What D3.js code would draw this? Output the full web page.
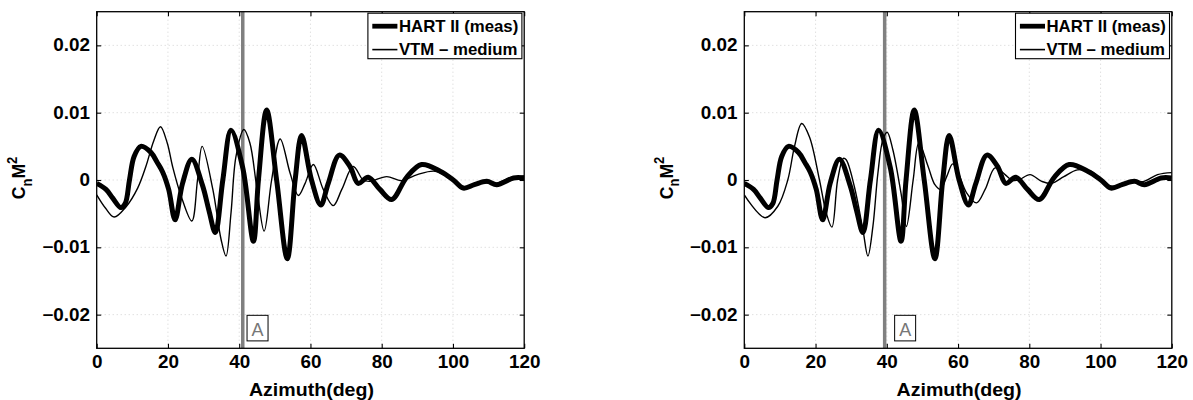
<!DOCTYPE html>
<html>
<head>
<meta charset="utf-8">
<script src="https://cdn.jsdelivr.net/npm/d3@7"></script>
<style>
  html, body { margin: 0; padding: 0; background: #fff; }
  svg { display: block; font-family: "Liberation Sans", Arial, Helvetica, sans-serif; }
</style>
</head>
<body>
<svg id="chart" width="1193" height="400"></svg>
<script>
// ---- Data ----
const xTicks = [0, 20, 40, 60, 80, 100, 120];
const yTicks = [-0.02, -0.01, 0, 0.01, 0.02];
const yTickLabels = ["\u22120.02", "\u22120.01", "0", "0.01", "0.02"];
const legendLabels = ["HART II (meas)", "VTM \u2013 medium"];
const markerLabel = "A";

// HART II measured (same in both panels)
const hartAz  = [0, 2.6, 4.5, 6.8, 8, 9.2, 10.5, 12.4, 15.2, 17, 18.5, 20.2, 22, 24.1, 26.7, 29.7, 31.5, 33.3, 35.4, 37.7, 41, 44, 45.4, 47.7, 50.5, 53.5, 55.7, 57.5, 60.3, 62.9, 65, 68.1, 71.1, 73.4, 76.2, 79.5, 82.8, 87, 91.2, 96.4, 100.1, 102.9, 106, 109.5, 112.3, 117, 120];
const hartVal = [-0.0005, -0.0014, -0.0027, -0.0041, -0.0035, 0, 0.0035, 0.005, 0.0041, 0.0026, 0.0012, -0.0014, -0.0059, -0.0005, 0.0031, -0.0008, -0.0045, -0.0078, 0, 0.0074, 0.0018, -0.0091, 0, 0.0104, 0, -0.0117, 0, 0.0066, 0, -0.0037, -0.0005, 0.0037, 0.002, -0.0005, 0.0004, -0.0014, -0.0029, 0.0004, 0.0023, 0.0013, 0, -0.0012, -0.0007, -0.0002, -0.0007, 0.0003, 0.0003];

// VTM medium, left panel
const vtmLeftAz  = [0, 2.5, 4.9, 8.2, 11.5, 13.8, 16, 17.9, 19.8, 21.3, 23.7, 26.7, 28.3, 29.6, 32.6, 34.9, 36.3, 37.7, 39.1, 41.3, 43, 44.9, 47, 49.1, 51.5, 54.3, 56.6, 58.5, 60.8, 63.6, 66.4, 68.8, 72, 74.8, 76.7, 81.4, 85.6, 90, 95, 100, 103, 108, 112, 116, 120];
const vtmLeftVal = [-0.0022, -0.0042, -0.0055, -0.004, -0.0012, 0.002, 0.0058, 0.0079, 0.0055, 0.002, -0.0024, -0.0061, 0, 0.005, -0.0014, -0.0088, -0.0113, -0.0049, 0.0035, 0.0075, 0.0055, -0.001, -0.0076, 0, 0.0061, 0.001, -0.0023, -0.0005, 0.0023, -0.0014, -0.0038, -0.0014, 0.002, 0, -0.0002, 0.0005, -0.0001, 0.0008, 0.0013, 0, -0.001, -0.0004, -0.0005, 0.0003, 0.0006];

// VTM medium, right panel
const vtmRightAz  = [0, 5.8, 9.4, 12.2, 14.1, 16.1, 18.3, 21.1, 23, 24.6, 26.2, 27.8, 28.6, 30.9, 33.3, 34.7, 36.1, 37.5, 38.9, 40.1, 41.7, 44, 45.5, 47.4, 49, 51.6, 53.5, 55.1, 56.8, 58.5, 60.1, 62.4, 65.2, 67.6, 70.4, 73.2, 75.1, 77, 80.2, 83.5, 86.3, 89.7, 93.5, 97.2, 102.8, 108.5, 112.2, 116, 120];
const vtmRightVal = [-0.0022, -0.0056, -0.0039, 0, 0.005, 0.0084, 0.0064, 0, -0.0049, -0.007, 0, 0.0032, 0.003, -0.001, -0.0074, -0.0113, -0.0069, 0.001, 0.006, 0.0071, 0.0045, -0.002, -0.0069, 0, 0.0055, 0.002, -0.0007, -0.0014, 0.0005, 0.0024, 0.001, -0.0019, -0.0034, -0.0014, 0.0018, 0.0008, 0, 0, 0.0008, -0.0002, -0.0005, 0.0005, 0.0015, 0.0013, -0.0009, -0.0002, -0.0002, 0.0008, 0.0011];

// marker (vertical line) azimuth per panel, and label box azimuth
const markerAz = [41, 39.4];
const markerBoxAz = 42.2;

// ---- Layout ----
const svg = d3.select("#chart");
svg.append("rect").attr("width", 1193).attr("height", 400).attr("fill", "#fff");

const panels = [
  { left: 96.7, vtmAz: vtmLeftAz, vtmVal: vtmLeftVal, marker: markerAz[0], id: "p0" },
  { left: 744.3, vtmAz: vtmRightAz, vtmVal: vtmRightVal, marker: markerAz[1], id: "p1" }
];
const W = 427.5, plotTop = 11.7, H = 336.6;
const FS = 17.5, SX = 1.08;

panels.forEach(p => {
  const g = svg.append("g").attr("transform", `translate(${p.left},${plotTop})`);
  const x = d3.scaleLinear().domain([0, 120]).range([0, W]);
  const y = d3.scaleLinear().domain([-0.025, 0.025]).range([H, 0]);

  // grid
  g.append("g").selectAll("line").data(xTicks.slice(1, -1)).join("line")
    .attr("x1", d => x(d)).attr("x2", d => x(d)).attr("y1", 0).attr("y2", H)
    .attr("stroke", "#c8c8c8").attr("stroke-width", 0.8).attr("stroke-dasharray", "1,3");
  g.append("g").selectAll("line").data(yTicks).join("line")
    .attr("y1", d => y(d)).attr("y2", d => y(d)).attr("x1", 0).attr("x2", W)
    .attr("stroke", "#c8c8c8").attr("stroke-width", 0.8).attr("stroke-dasharray", "1,3");

  // clip
  svg.append("clipPath").attr("id", "clip" + p.id).append("rect").attr("width", W).attr("height", H);
  const plot = g.append("g").attr("clip-path", `url(#clip${p.id})`);

  // marker line
  plot.append("line").attr("x1", x(p.marker)).attr("x2", x(p.marker)).attr("y1", 0).attr("y2", H)
    .attr("stroke", "#808080").attr("stroke-width", 3.5);

  const line = d3.line().x(d => x(d[0])).y(d => y(d[1])).curve(d3.curveCatmullRom.alpha(0.5));
  plot.append("path").datum(d3.zip(p.vtmAz, p.vtmVal)).attr("d", line)
    .attr("fill", "none").attr("stroke", "#000").attr("stroke-width", 1.4);
  plot.append("path").datum(d3.zip(hartAz, hartVal)).attr("d", line)
    .attr("fill", "none").attr("stroke", "#000").attr("stroke-width", 5).attr("stroke-linejoin", "round");

  // marker label box
  const bx = x(markerBoxAz), by = y(-0.0201), bh = y(-0.0239) - y(-0.0201);
  g.append("rect").attr("x", bx).attr("y", by).attr("width", 21).attr("height", bh)
    .attr("fill", "#fff").attr("stroke", "#000").attr("stroke-width", 1);
  g.append("text").attr("x", bx + 10.5).attr("y", by + bh - 4.5).attr("text-anchor", "middle")
    .attr("font-size", 18).attr("fill", "#777").text(markerLabel);

  // axes
  const tickLen = 4.5;
  const axB = g.append("g").attr("transform", `translate(0,${H})`)
    .call(d3.axisBottom(x).tickValues(xTicks).tickSize(-tickLen).tickPadding(7.5));
  const axT = g.append("g").call(d3.axisTop(x).tickValues(xTicks).tickSize(-tickLen).tickFormat(""));
  const axL = g.append("g").call(d3.axisLeft(y).tickValues(yTicks).tickSize(-tickLen).tickPadding(6.2)
    .tickFormat(d => yTickLabels[yTicks.indexOf(d)]));
  const axR = g.append("g").attr("transform", `translate(${W},0)`)
    .call(d3.axisRight(y).tickValues(yTicks).tickSize(-tickLen).tickFormat(""));
  [axB, axT, axL, axR].forEach(a => {
    a.select(".domain").remove();
    a.selectAll(".tick line").attr("stroke", "#000").attr("stroke-width", 1.1);
    a.selectAll("text").attr("font-size", FS).attr("font-weight", "bold").attr("fill", "#000")
      .attr("font-family", '"Liberation Sans", Arial, sans-serif')
      .attr("transform", `scale(${SX},1)`);
  });
  axB.selectAll("text").attr("dy", "0.71em");

  // frame
  g.append("rect").attr("width", W).attr("height", H).attr("fill", "none")
    .attr("stroke", "#000").attr("stroke-width", 1.3);

  // x label
  g.append("text").attr("transform", `translate(${W / 2 + 1},${396 - plotTop}) scale(1.12,1)`)
    .attr("text-anchor", "middle")
    .attr("font-size", FS).attr("font-weight", "bold").text("Azimuth(deg)");

  // y label
  const yl = g.append("text")
    .attr("transform", `translate(-71.5,${H / 2 - 2}) scale(${SX},1) rotate(-90)`)
    .attr("text-anchor", "middle").attr("font-size", FS).attr("font-weight", "bold");
  yl.append("tspan").text("C");
  yl.append("tspan").attr("font-size", 13).attr("dy", 6).text("n");
  yl.append("tspan").attr("dy", -6).text("M");
  yl.append("tspan").attr("font-size", 13).attr("dy", -8).text("2");

  // legend
  const lw = 154, lh = 45.5;
  const lx = W - lw - 2.3, ly = 1.5;
  const lg = g.append("g").attr("transform", `translate(${lx},${ly})`);
  lg.append("rect").attr("width", lw).attr("height", lh).attr("fill", "#fff")
    .attr("stroke", "#000").attr("stroke-width", 1.1);
  const widths = [4.8, 1.6];
  legendLabels.forEach((t, i) => {
    const yy = 13 + i * 23.4;
    lg.append("line").attr("x1", 4.4).attr("x2", 29.5).attr("y1", yy).attr("y2", yy)
      .attr("stroke", "#000").attr("stroke-width", widths[i]);
    lg.append("text").attr("transform", `translate(31,${yy + 5.8}) scale(1.05,1)`)
      .attr("font-size", 16).attr("font-weight", "bold").text(t);
  });
});
</script>
</body>
</html>
